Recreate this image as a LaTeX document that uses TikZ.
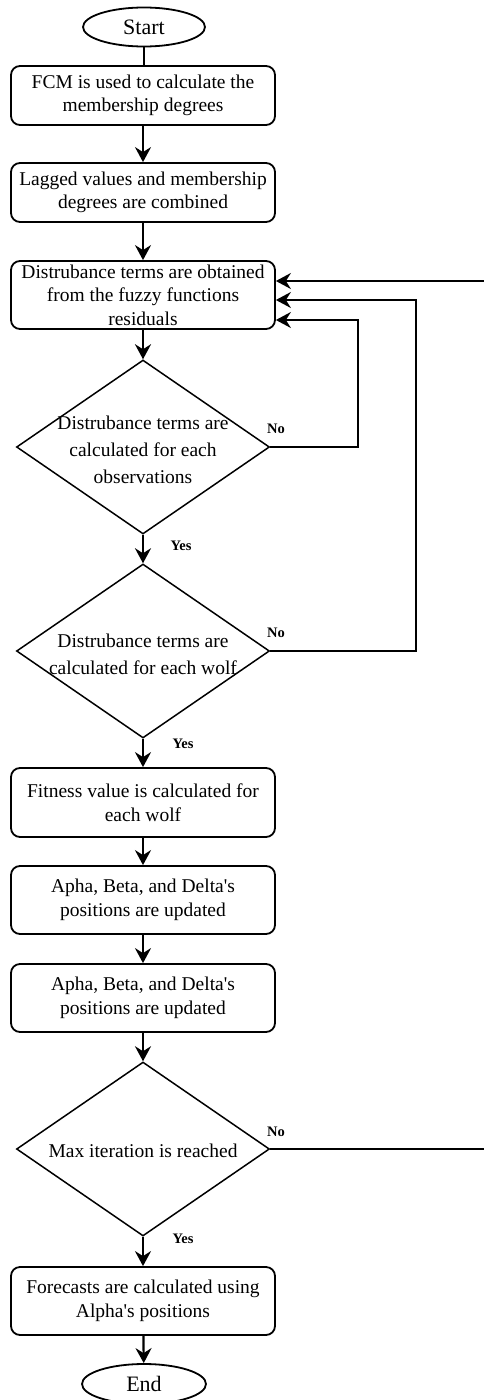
\documentclass[tikz,border=0pt]{standalone}
\usepackage{fontspec}
\setmainfont{Liberation Serif}[Ligatures=TeXOff]
\usetikzlibrary{shapes.geometric,arrows.meta}
\begin{document}
\begin{tikzpicture}[x=1pt,y=-1pt,
  box/.style={draw, line width=1.8pt, rounded corners=9pt, minimum width=264pt, inner sep=0pt, align=center, font=\fontsize{19.5}{23.5}\selectfont},
  term/.style={draw, ellipse, line width=1.8pt, inner sep=0pt, minimum width=122pt, minimum height=39pt, font=\fontsize{22}{26}\selectfont},
  dec/.style={draw, diamond, line width=1.5pt, inner sep=0pt, minimum width=253pt, minimum height=174pt},
  dtext/.style={align=center, inner sep=0pt, font=\fontsize{19.5}{27}\selectfont},
  yn/.style={inner sep=0pt, font=\bfseries\fontsize{14.5}{16}\selectfont},
  arr/.style={line width=2.2pt, -{Stealth[length=15pt,width=16pt,inset=5pt]}},
  loopline/.style={line width=1.7pt, -{Stealth[length=15pt,width=16pt,inset=5pt]}}
]
\useasboundingbox (0,0) rectangle (484,1400);
\fill[white] (0,0) rectangle (484,1400);

\node[term] (start) at (144,27) {Start};
\node[box, minimum height=59pt] (b1) at (143,95.5) {FCM is used to calculate the\\membership degrees};
\node[box, minimum height=59pt] (b2) at (143,192.5) {Lagged values and membership\\degrees are combined};
\node[box, minimum height=68pt] (b3) at (143,295) {Distrubance terms are obtained\\from the fuzzy functions\\residuals};

\node[dec] (d1) at (143,447) {};
\node[dtext] (d1t) at (143,449.5) {Distrubance terms are\\calculated for each\\observations};
\node[dec] (d2) at (143,651) {};
\node[dtext] (d2t) at (143,654.5) {Distrubance terms are\\calculated for each wolf};

\node[box, minimum height=69pt] (b4) at (143,802.5) {Fitness value is calculated for\\each wolf};
\node[box, minimum height=68pt] (b5) at (143,900) {Apha, Beta, and Delta's\\positions are updated};
\node[box, minimum height=68pt] (b6) at (143,998) {Apha, Beta, and Delta's\\positions are updated};

\node[dec] (d3) at (143,1149) {};
\node[dtext] (d3t) at (143,1151) {Max iteration is reached};

\node[box, minimum height=68pt] (b7) at (143,1301) {Forecasts are calculated using\\Alpha's positions};
\node[term, minimum height=40pt, minimum width=124pt] (end) at (144,1384) {End};

\draw[line width=2pt] (start) -- (start |- b1.north);
\draw[arr] (b1) -- (b2);
\draw[arr] (b2) -- (b3);
\draw[arr] (b3) -- (d1);
\draw[arr] (d1) -- (d2);
\draw[arr] (d2) -- (b4);
\draw[arr] (b4) -- (b5);
\draw[arr] (b5) -- (b6);
\draw[arr] (b6) -- (d3);
\draw[arr] (d3) -- (b7);
\draw[arr] (b7) -- (end);

\draw[loopline] (d1.east) -- ++(88,0) |- ([yshift=-25pt]b3.east);
\draw[loopline] (d2.east) -- ++(146,0) |- ([yshift=-5pt]b3.east);
\draw[loopline] (d3.east) -- ++(240,0) |- ([yshift=14pt]b3.east);

\node[yn] (no1) at (276,429) {No};
\node[yn] (no2) at (276,633) {No};
\node[yn] (no3) at (276,1132) {No};
\node[yn] (yes1) at (181,546) {Yes};
\node[yn] (yes2) at (183,744) {Yes};
\node[yn] (yes3) at (183,1239) {Yes};
\end{tikzpicture}
\end{document}
